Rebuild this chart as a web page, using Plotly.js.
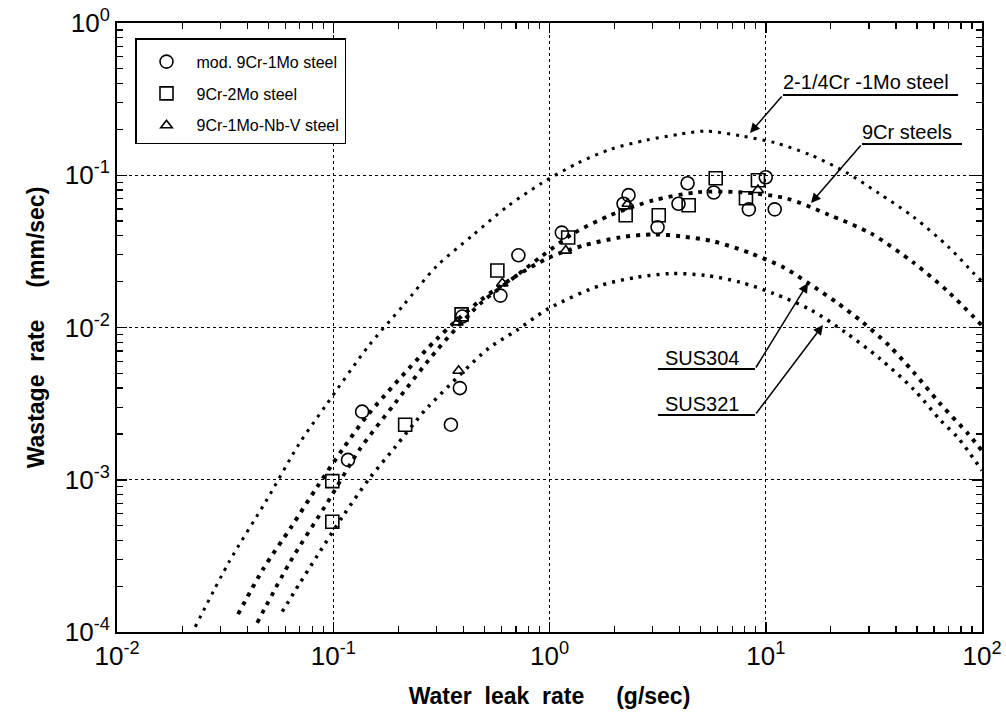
<!DOCTYPE html>
<html>
<head>
<meta charset="utf-8">
<script src="https://cdn.plot.ly/plotly-3.0.1.min.js"></script>
<style>html,body{margin:0;padding:0;background:#fff;}#chart{width:1006px;height:723px;}</style>
</head>
<body>
<div id="chart"></div>
<script>
// ---- Data ----
// 2-1/4Cr-1Mo steel curve
const crmoX = [0.0230, 0.0330, 0.0490, 0.0697, 0.0929, 0.145, 0.211, 0.300, 0.441, 0.640, 0.918, 1.35, 1.91, 2.81, 4.00, 5.27, 7.74, 11.1, 16.1, 23.4, 33.3, 48.4, 70.3, 91.8, 100];
const crmoY = [1.08e-4, 2.89e-4, 7.28e-4, 1.73e-3, 3.11e-3, 7.50e-3, 0.0140, 0.0252, 0.0403, 0.0625, 0.0885, 0.120, 0.148, 0.170, 0.186, 0.195, 0.181, 0.163, 0.136, 0.105, 0.0762, 0.0530, 0.0336, 0.0226, 0.0201];
// 9Cr steels curve
const cr9X = [0.0445, 0.0632, 0.0938, 0.132, 0.194, 0.303, 0.480, 0.697, 0.918, 1.29, 1.91, 3.03, 4.84, 7.66, 12.4, 19.4, 30.6, 48.0, 70.3, 100];
const cr9Y = [1.15e-4, 2.89e-4, 7.06e-4, 1.57e-3, 3.21e-3, 7.16e-3, 0.0144, 0.0217, 0.0293, 0.0415, 0.0546, 0.0685, 0.0773, 0.0773, 0.0706, 0.0553, 0.0415, 0.0268, 0.0170, 0.0103];
// SUS304 curve
const sus304X = [0.0363, 0.0474, 0.0640, 0.0843, 0.111, 0.145, 0.303, 0.480, 0.697, 1.00, 1.44, 2.13, 3.03, 4.04, 5.74, 8.53, 12.1, 15.8, 21.3, 28.1, 37.1, 48.4, 64.0, 86.1, 100];
const sus304Y = [1.31e-4, 2.59e-4, 4.91e-4, 8.99e-4, 1.60e-3, 2.68e-3, 8.47e-3, 0.0151, 0.0217, 0.0289, 0.0346, 0.0391, 0.0409, 0.0397, 0.0368, 0.0307, 0.0248, 0.0195, 0.0146, 0.0108, 7.62e-3, 5.06e-3, 3.16e-3, 2.01e-3, 1.55e-3];
// SUS321 curve
const sus321X = [0.0581, 0.0697, 0.0843, 0.111, 0.147, 0.194, 0.253, 0.275, 0.522, 0.703, 0.989, 1.72, 2.50, 3.63, 5.27, 7.66, 10.9, 16.1, 23.4, 33.7, 48.4, 64.6, 77.4, 100];
const sus321Y = [1.36e-4, 2.07e-4, 3.16e-4, 5.79e-4, 1.02e-3, 1.65e-3, 2.64e-3, 3.02e-3, 7.28e-3, 9.55e-3, 0.0133, 0.0189, 0.0213, 0.0226, 0.0220, 0.0198, 0.0167, 0.0131, 9.27e-3, 6.25e-3, 3.91e-3, 2.44e-3, 1.89e-3, 1.15e-3];

// Experimental points
const mod9X = [0.117, 0.136, 0.35, 0.385, 0.395, 0.593, 0.718, 1.14, 2.20, 2.32, 3.16, 4.35, 3.95, 5.75, 8.35, 10.0, 11.0];
const mod9Y = [1.35e-3, 2.8e-3, 2.3e-3, 4.0e-3, 0.0118, 0.0162, 0.0298, 0.042, 0.065, 0.074, 0.0455, 0.0886, 0.065, 0.077, 0.0597, 0.097, 0.0597];
const cr2moX = [0.099, 0.099, 0.215, 0.392, 0.574, 1.22, 2.25, 3.20, 4.40, 5.87, 8.10, 9.20];
const cr2moY = [9.8e-4, 5.3e-4, 2.3e-3, 0.0122, 0.0237, 0.039, 0.0546, 0.0546, 0.0635, 0.0955, 0.0706, 0.0927];
const nbvX = [0.38, 0.375, 0.605, 1.19, 2.30, 9.20];
const nbvY = [5.2e-3, 0.0108, 0.0195, 0.032, 0.065, 0.08];

const legendNames = ['mod. 9Cr-1Mo steel', '9Cr-2Mo steel', '9Cr-1Mo-Nb-V steel'];
const xTickVals = [0.01, 0.1, 1, 10, 100];
const xTickText = ['10<sup>-2</sup>', '10<sup>-1</sup>', '10<sup>0</sup>', '10<sup>1</sup>', '10<sup>2</sup>'];
const yTickVals = [1e-4, 1e-3, 1e-2, 1e-1, 1];
const yTickText = ['10<sup>-4</sup>', '10<sup>-3</sup>', '10<sup>-2</sup>', '10<sup>-1</sup>', '10<sup>0</sup>'];

// ---- Plot ----
const FONT = 'Liberation Sans, Arial, sans-serif';
function curve(x, y, w, dash) {
  return {x: x, y: y, type: 'scatter', mode: 'lines', showlegend: false, hoverinfo: 'skip',
    line: {color: '#000', width: w, dash: dash, shape: 'spline', smoothing: 0.8}};
}
function pts(x, y, name, sym, size, grp) {
  return {x: x, y: y, type: 'scatter', mode: 'markers', name: name, legendgroup: grp,
    marker: {symbol: sym, size: size, color: '#000', line: {color: '#000', width: 1.6}}};
}
const traces = [
  curve(crmoX, crmoY, 3, '3px,6px'),
  curve(cr9X, cr9Y, 3.8, '4px,6px'),
  curve(sus304X, sus304Y, 4, '4px,6px'),
  curve(sus321X, sus321Y, 3.5, '3px,6px'),
  pts(mod9X, mod9Y, legendNames[0], 'circle-open', 13, 'a'),
  pts(cr2moX, cr2moY, legendNames[1], 'square-open', 13, 'b'),
  pts(nbvX, nbvY, legendNames[2], 'triangle-up-open', 10, 'c')
];

// minor tick positions (2..9 within each decade)
function minorTicks(lo, hi) {
  const out = [];
  for (let d = lo; d < hi; d++) for (let k = 2; k <= 9; k++) out.push(k * Math.pow(10, d));
  return out;
}

const L = 117, R = 982, T = 23, B = 632;
const px = v => (v - L) / (R - L);
const py = v => (B - v) / (B - T);
const annFont = {family: FONT, size: 20, color: '#000'};

function label(text, xl, yc) {
  return {xref: 'paper', yref: 'paper', x: px(xl), y: py(yc), xanchor: 'left', yanchor: 'middle',
    text: text, showarrow: false, font: annFont};
}
function arrow(tipX, tipY, tailX, tailY) {
  return {xref: 'paper', yref: 'paper', x: px(tipX), y: py(tipY), axref: 'pixel', ayref: 'pixel',
    ax: tailX - tipX, ay: tailY - tipY, text: '', showarrow: true, arrowhead: 2, arrowsize: 1.3,
    arrowwidth: 1.5, arrowcolor: '#000', standoff: 0};
}
function underline(x0, x1, y) {
  return {type: 'line', xref: 'paper', yref: 'paper', x0: px(x0), x1: px(x1), y0: py(y), y1: py(y),
    line: {color: '#000', width: 2}};
}

function axis(range, tv, tt, minorVals, title, standoff) {
  return {
    type: 'log', range: range, tickmode: 'array', tickvals: tv, ticktext: tt,
    showline: true, linecolor: '#000', linewidth: 2, mirror: 'ticks',
    ticks: 'inside', ticklen: 10, tickwidth: 1.5, tickcolor: '#000',
    showgrid: true, gridcolor: '#000', gridwidth: 1, griddash: 'dot', zeroline: false,
    tickfont: {family: FONT, size: 26, color: '#000'},
    minor: {tickmode: 'array', tickvals: minorVals, ticks: 'inside', ticklen: 6, tickwidth: 1.2, tickcolor: '#000', showgrid: false},
    title: {text: title, font: {family: FONT, size: 23, color: '#000'}, standoff: standoff}
  };
}

const layout = {
  width: 1006, height: 723,
  margin: {l: L, r: 1006 - R, t: T, b: 723 - B},
  paper_bgcolor: '#fff', plot_bgcolor: '#fff',
  font: {family: FONT, color: '#000'},
  xaxis: axis([-2, 2], xTickVals, xTickText, minorTicks(-2, 2),
    '<b>Water\u00A0\u00A0leak\u00A0\u00A0rate\u00A0\u00A0\u00A0\u00A0\u00A0(g/sec)</b>', 18),
  yaxis: axis([-4, 0], yTickVals, yTickText, minorTicks(-4, 0),
    '<b>Wastage\u00A0\u00A0rate\u00A0\u00A0\u00A0\u00A0\u00A0(mm/sec)</b>', 14),
  legend: {x: px(135), y: py(38), xanchor: 'left', yanchor: 'top', bgcolor: '#fff',
    bordercolor: '#000', borderwidth: 1.5, font: {family: FONT, size: 16, color: '#000'},
    tracegroupgap: 8, itemwidth: 50,
    title: {text: '\u00A0', font: {family: FONT, size: 4}}},
  annotations: [
    label('2-1/4Cr -1Mo steel', 781, 82), arrow(750, 133, 783, 95),
    label('9Cr steels', 860, 132), arrow(811, 203, 862, 144),
    label('SUS304', 663, 358), arrow(808, 283, 755, 369),
    label('SUS321', 663, 404), arrow(823, 325, 755, 415)
  ],
  shapes: [
    underline(783, 958, 95), underline(862, 962, 144),
    underline(658, 755, 369), underline(658, 755, 415)
  ]
};

Plotly.newPlot('chart', traces, layout, {staticPlot: true});
</script>
</body>
</html>
